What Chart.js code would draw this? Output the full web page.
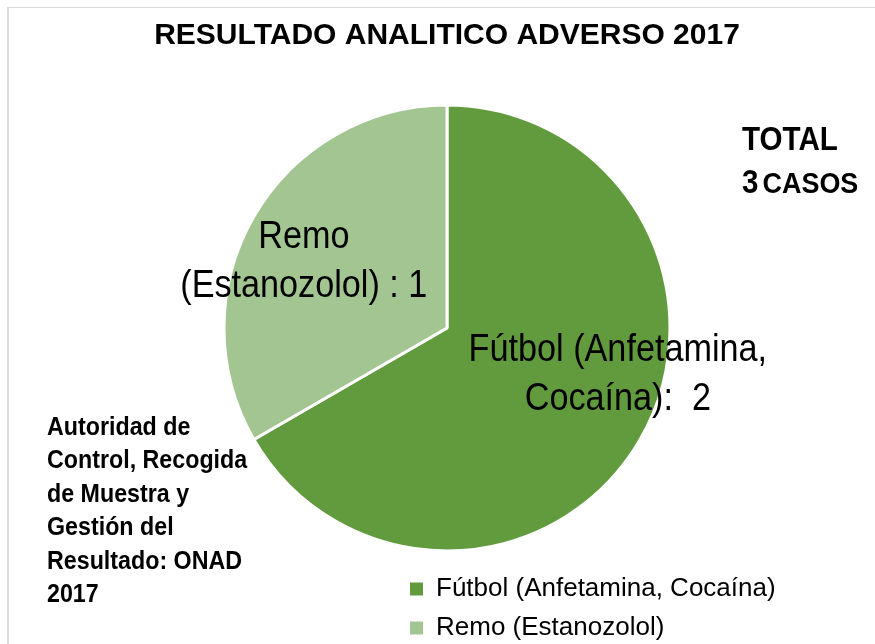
<!DOCTYPE html>
<html>
<head>
<meta charset="utf-8">
<script src="https://cdn.jsdelivr.net/npm/chart.js@4/dist/chart.umd.min.js"></script>
<style>
html,body{margin:0;padding:0;background:#fff;}
#wrap{width:875px;height:644px;position:relative;}
</style>
</head>
<body>
<div id="wrap"><canvas id="c" width="875" height="644"></canvas></div>
<script>
// ---- data ----
const titleText = 'RESULTADO ANALITICO ADVERSO 2017';
const categories = ['Fútbol (Anfetamina, Cocaína)', 'Remo (Estanozolol)'];
const caseCounts = [2, 1];
const sliceColors = ['#629A3E', '#A3C592'];
const dataLabelLines = [
  ['Fútbol (Anfetamina,', 'Cocaína):  ' + caseCounts[0]],
  ['Remo', '(Estanozolol) : ' + caseCounts[1]]
];
const totalLines = ['TOTAL', 'CASOS'];
const sourceLines = ['Autoridad de', 'Control, Recogida', 'de Muestra y', 'Gestión del', 'Resultado: ONAD', '2017'];

// ---- styles ----
const FONT = "'Liberation Sans', Arial, sans-serif";
const labelStyle = [
  {f: 0.75, dx: 26, dy: -51},
  {f: 0.70, dx: -8, dy: -2}
];

// draw text horizontally condensed (narrow look of the original)
function narrowText(ctx, text, x, y, sx) {
  ctx.save();
  ctx.translate(x, y);
  ctx.scale(sx, 1);
  ctx.fillText(text, 0, 0);
  ctx.restore();
}

const framePlugin = {
  id: 'frame',
  beforeDraw(chart) {
    const ctx = chart.ctx;
    ctx.save();
    ctx.fillStyle = '#ffffff';
    ctx.fillRect(0, 0, chart.width, chart.height);
    ctx.fillStyle = '#d9d9d9';
    ctx.fillRect(7, 7, chart.width - 7, 1);
    ctx.fillRect(7, 7, 2, chart.height - 7);
    ctx.restore();
  }
};

const legendPlace = {
  id: 'legendPlace',
  afterLayout(chart) {
    const lg = chart.legend;
    if (!lg) return;
    lg.left = 397;
    lg.right = chart.width;
    lg.width = lg.right - lg.left;
    lg.top += 7;
    lg.bottom += 7;
  }
};

const annotPlugin = {
  id: 'annot',
  afterDatasetsDraw(chart) {
    const ctx = chart.ctx;
    const meta = chart.getDatasetMeta(0);
    ctx.save();
    ctx.fillStyle = '#000';
    ctx.font = '38px ' + FONT;
    ctx.textAlign = 'center';
    ctx.textBaseline = 'alphabetic';
    meta.data.forEach((arc, i) => {
      const p = arc.getProps(['x', 'y', 'startAngle', 'endAngle', 'outerRadius'], true);
      const mid = (p.startAngle + p.endAngle) / 2;
      const s = labelStyle[i];
      const ax = p.x + Math.cos(mid) * p.outerRadius * s.f + s.dx;
      const ay = p.y + Math.sin(mid) * p.outerRadius * s.f + s.dy;
      dataLabelLines[i].forEach((line, j) => narrowText(ctx, line, ax, ay + j * 49.5, 0.9));
    });
    ctx.restore();
  },
  afterDraw(chart) {
    const ctx = chart.ctx;
    ctx.save();
    ctx.fillStyle = '#000';
    ctx.textAlign = 'left';
    ctx.textBaseline = 'alphabetic';
    // total
    const total = String(caseCounts.reduce((a, b) => a + b, 0));
    ctx.font = 'bold 34px ' + FONT;
    narrowText(ctx, totalLines[0], 742, 150, 0.87);
    narrowText(ctx, total, 742, 193, 0.87);
    const w3 = ctx.measureText(total).width * 0.87;
    ctx.font = 'bold 29px ' + FONT;
    narrowText(ctx, totalLines[1], 742 + w3 + 4, 193, 0.93);
    // source
    ctx.font = 'bold 25px ' + FONT;
    sourceLines.forEach((line, i) => narrowText(ctx, line, 47, 435 + i * 33.4, 0.93));
    ctx.restore();
  }
};

new Chart(document.getElementById('c'), {
  type: 'pie',
  data: {
    labels: categories,
    datasets: [{
      data: caseCounts,
      backgroundColor: sliceColors,
      borderColor: '#ffffff',
      borderWidth: 3
    }]
  },
  options: {
    responsive: false,
    animation: false,
    radius: 223,
    layout: {padding: {left: 127, right: 108, top: 0, bottom: 0}},
    plugins: {
      title: {
        display: true,
        text: titleText,
        color: '#000',
        font: {family: FONT, size: 30, weight: 'bold'},
        padding: {top: 18, bottom: 46}
      },
      legend: {
        position: 'bottom',
        align: 'start',
        labels: {
          boxWidth: 13,
          boxHeight: 13,
          padding: 13,
          color: '#000',
          font: {family: FONT, size: 26},
          generateLabels(chart) {
            const base = Chart.overrides.pie.plugins.legend.labels.generateLabels(chart);
            return base.map(l => Object.assign(l, {lineWidth: 0}));
          }
        }
      },
      tooltip: {enabled: false}
    }
  },
  plugins: [framePlugin, legendPlace, annotPlugin]
});
</script>
</body>
</html>
